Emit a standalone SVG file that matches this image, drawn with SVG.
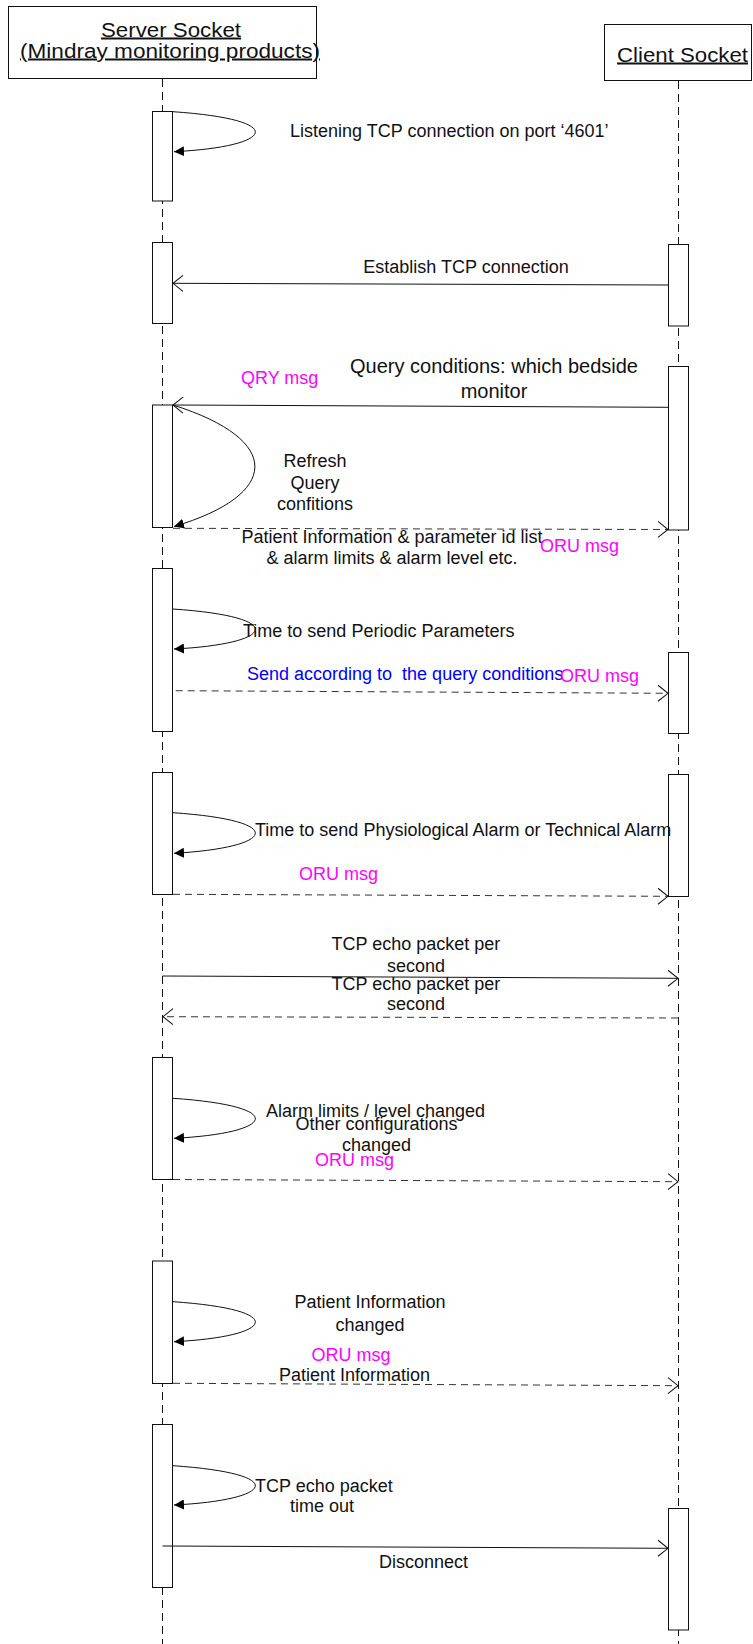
<svg xmlns="http://www.w3.org/2000/svg" width="753" height="1644" viewBox="0 0 753 1644">
<style>
text{font-family:"Liberation Sans",Arial,sans-serif;font-size:18px;fill:#111;}
.hd{font-size:20px;text-decoration:underline;}
.big{font-size:20px;}
.m{fill:#FF00FF;}
.b{fill:#0000FF;}
.c{text-anchor:middle;}
.life{stroke:#111;stroke-width:1;stroke-dasharray:8 5;fill:none;}
.box{fill:#fff;stroke:#111;stroke-width:1;}
.bar{fill:#fff;stroke:#111;stroke-width:1;}
.sol{stroke:#111;stroke-width:1;fill:none;marker-end:url(#open);}
.dsh{stroke:#333;stroke-width:1;fill:none;stroke-dasharray:7 5;marker-end:url(#open);}
.loop{stroke:#111;stroke-width:1;fill:none;marker-end:url(#fill);}
</style>
<defs>
<marker id="open" viewBox="0 0 10 16" refX="10" refY="8" markerWidth="10" markerHeight="16" markerUnits="userSpaceOnUse" orient="auto" overflow="visible">
<path d="M0,0 L10,8 L0,16" fill="none" stroke="#111" stroke-width="1"/>
</marker>
<marker id="fill" viewBox="0 0 10 10" refX="10" refY="5" markerWidth="10" markerHeight="10" markerUnits="userSpaceOnUse" orient="auto">
<path d="M0,0 L10,5 L0,10 z" fill="#000"/>
</marker>
</defs>
<rect width="753" height="1644" fill="#fff"/>

<g id="server">
<line class="life" x1="162.5" y1="79" x2="162.5" y2="1644"/>
<rect class="box" x="8.5" y="6.5" width="308" height="72"/>
<text class="hd c" x="171" y="36.5" textLength="140" lengthAdjust="spacingAndGlyphs">Server Socket</text>
<text class="hd c" x="170" y="57.5" textLength="300" lengthAdjust="spacingAndGlyphs">(Mindray monitoring products)</text>
</g>
<g id="client">
<line class="life" x1="678.5" y1="81" x2="678.5" y2="1644"/>
<rect class="box" x="604.5" y="24.5" width="147" height="56"/>
<text class="hd c" x="682.5" y="61.5" textLength="131" lengthAdjust="spacingAndGlyphs">Client Socket</text>
</g>

<g id="server-activations">
<rect class="bar" x="152.5" y="111.5" width="20" height="89.5"/>
<rect class="bar" x="152.5" y="242.5" width="20" height="81"/>
<rect class="bar" x="152.5" y="405" width="20" height="122.5"/>
<rect class="bar" x="152.5" y="568.5" width="20" height="163"/>
<rect class="bar" x="152.5" y="772.5" width="20" height="122"/>
<rect class="bar" x="152.5" y="1057.5" width="20" height="122"/>
<rect class="bar" x="152.5" y="1261" width="20" height="122.5"/>
<rect class="bar" x="152.5" y="1424.5" width="20" height="163"/>
</g>
<g id="client-activations">
<rect class="bar" x="668.5" y="244.5" width="20" height="81.5"/>
<rect class="bar" x="668.5" y="366.5" width="20" height="163.5"/>
<rect class="bar" x="668.5" y="652.5" width="20" height="81"/>
<rect class="bar" x="668.5" y="774.5" width="20" height="122"/>
<rect class="bar" x="668.5" y="1508.5" width="20" height="121.5"/>
</g>

<g id="connectors">
<path class="loop" d="M173,111.7 C290,119.7 275,146.7 174,151.7"/>
<path class="sol" d="M668,285 L173,283.3"/>
<path class="sol" d="M668,407.3 L173,405"/>
<path class="loop" d="M173,405 C284,440 280,495 174,526.5"/>
<path class="dsh" d="M173,528.3 L668,529.5"/>
<path class="loop" d="M173,609 C290,617 275,644 174,649"/>
<path class="dsh" d="M175.7,690.7 L668,693.3"/>
<path class="loop" d="M173,812.7 C290,820.7 275,847.7 174,853.3"/>
<path class="dsh" d="M173,894.3 L668,896.3"/>
<path class="sol" d="M162.5,976 L678,978.3"/>
<path class="dsh" d="M678,1018 L163,1016.7"/>
<path class="loop" d="M173,1098.3 C290,1106.3 275,1133.3 174,1138.3"/>
<path class="dsh" d="M173,1179.5 L678,1181.7"/>
<path class="loop" d="M173,1301.7 C290,1309.7 275,1336.7 174,1341.7"/>
<path class="dsh" d="M173,1383.3 L678,1385.7"/>
<path class="loop" d="M173,1465.7 C290,1473.7 275,1500 174,1505"/>
<path class="sol" d="M162.5,1546 L668,1548.3"/>
</g>

<g id="labels">
<text x="290" y="137">Listening TCP connection on port ‘4601’</text>
<text class="c" x="466" y="273">Establish TCP connection</text>
<text class="m" x="241" y="384">QRY msg</text>
<text class="big c" x="494" y="373">Query conditions: which bedside</text>
<text class="big c" x="494" y="397.5">monitor</text>
<text class="c" x="315" y="466.5">Refresh</text>
<text class="c" x="315" y="488.5">Query</text>
<text class="c" x="315" y="510">confitions</text>
<text class="c" x="392" y="543">Patient Information &amp; parameter id list</text>
<text class="c" x="392" y="563.5">&amp; alarm limits &amp; alarm level etc.</text>
<text class="m" x="540" y="552">ORU msg</text>
<text x="243" y="636.5">Time to send Periodic Parameters</text>
<text class="b" x="247" y="680" xml:space="preserve">Send according to  the query conditions</text>
<text class="m" x="560" y="681.5">ORU msg</text>
<text x="255" y="836">Time to send Physiological Alarm or Technical Alarm</text>
<text class="m" x="299" y="880">ORU msg</text>
<text class="c" x="416" y="950">TCP echo packet per</text>
<text class="c" x="416" y="971.5">second</text>
<text class="c" x="416" y="989.5">TCP echo packet per</text>
<text class="c" x="416" y="1010">second</text>
<text x="266" y="1116.5">Alarm limits / level changed</text>
<text class="c" x="376.5" y="1129.5">Other configurations</text>
<text class="c" x="376.5" y="1151">changed</text>
<text class="m" x="315" y="1166">ORU msg</text>
<text class="c" x="370" y="1308">Patient Information</text>
<text class="c" x="370" y="1330.5">changed</text>
<text class="m" x="311.5" y="1360.5">ORU msg</text>
<text x="279" y="1380.5">Patient Information</text>
<text x="255" y="1491.5">TCP echo packet</text>
<text class="c" x="322" y="1511.5">time out</text>
<text class="c" x="423.5" y="1568">Disconnect</text>
</g>
</svg>
